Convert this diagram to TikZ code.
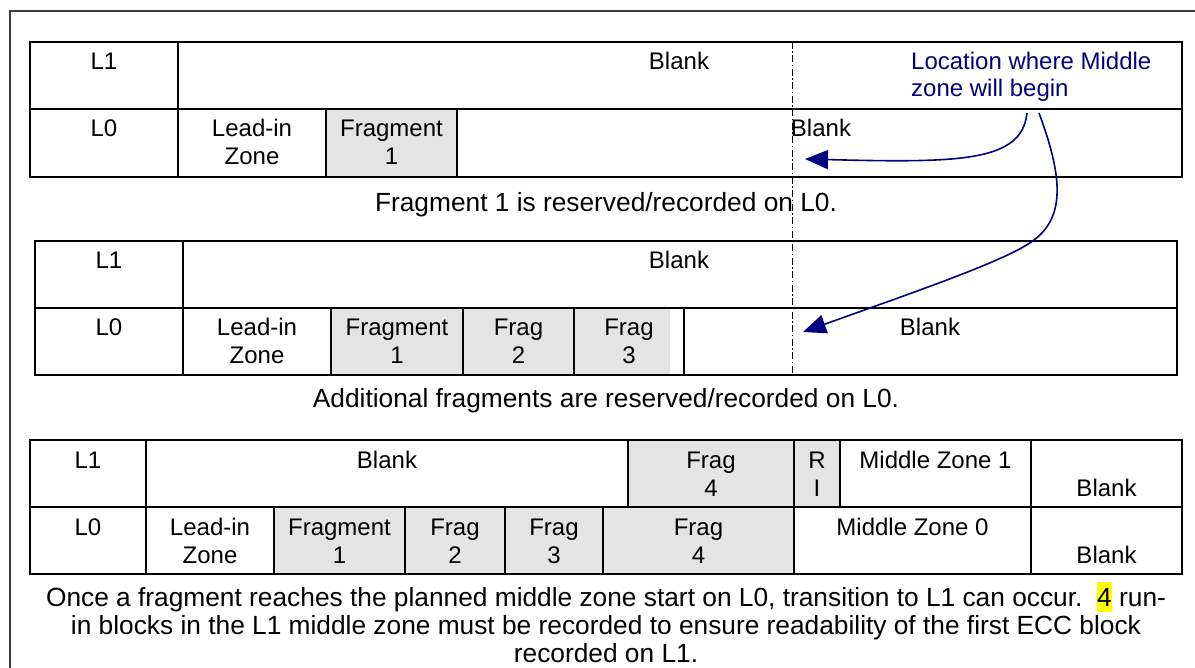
\documentclass[tikz,border=0pt]{standalone}
\usepackage{fontspec}
\setmainfont{Liberation Sans}
\usetikzlibrary{arrows.meta}
\definecolor{fraggray}{HTML}{E4E4E4}
\definecolor{navyblue}{HTML}{000080}
\definecolor{framegray}{HTML}{3C3C3C}
\definecolor{hiyellow}{HTML}{FFFF00}
\newcommand{\hlmark}[1]{{\setlength{\fboxsep}{0pt}\colorbox{hiyellow}{\rule[-5.5pt]{0pt}{29.5pt}#1}}}
\frenchspacing
\tikzset{
  gridline/.style={line width=1.8pt, draw=black},
  tt/.style={font=\fontsize{24}{28}\selectfont, anchor=base, inner sep=0pt},
  captext/.style={font=\fontsize{26.3}{30}\selectfont, anchor=base, inner sep=0pt},
  conn/.style={draw=navyblue, line width=1.6pt, -{Triangle[length=23pt,width=19pt]}},
  dashline/.style={line width=1pt, dash pattern=on 7pt off 2.5pt on 1.5pt off 2.5pt},
  loctext/.style={font=\fontsize{24}{28}\selectfont, anchor=base west, inner sep=0pt, text=navyblue}
}
\begin{document}
\begin{tikzpicture}[x=1pt,y=-1pt]
\useasboundingbox[fill=white] (0,0) rectangle (1195,668);
% outer frame (continues beyond the picture)
\draw[framegray, line width=1.5pt] (10,668) -- (10,11) -- (1195,11);

% ---------- table 1 ----------
\fill[fraggray] (326,109) rectangle (457,177);
\draw[gridline] (30,42) rectangle (1182,177);
\draw[gridline] (30,109) -- (1182,109);
\draw[gridline] (178,42) -- (178,177);
\draw[gridline] (326,109) -- (326,177) (457,109) -- (457,177);

% ---------- table 2 ----------
\fill[fraggray] (331,308) rectangle (670,375);
\draw[gridline] (35,241) rectangle (1177,375);
\draw[gridline] (35,308) -- (1177,308);
\draw[gridline] (183,241) -- (183,375);
\foreach \x in {331,463,574,684} \draw[gridline] (\x,308) -- (\x,375);

% ---------- table 3 ----------
\fill[fraggray] (628,440) rectangle (840,507);
\fill[fraggray] (274,507) rectangle (794,574);
\draw[gridline] (30,440) rectangle (1182,574);
\draw[gridline] (30,507) -- (1182,507);
\foreach \x in {146,794,1031} \draw[gridline] (\x,440) -- (\x,574);
\foreach \x in {628,840} \draw[gridline] (\x,440) -- (\x,507);
\foreach \x in {274,405,505,603} \draw[gridline] (\x,507) -- (\x,574);

% dash-dot marker of the middle zone start
\draw[dashline] (792,42) -- (792,375);

% ---------- texts table 1 ----------
\node[tt] (t1l1) at (104,70) {L1};
\node[tt] (t1b1) at (679,70) {Blank};
\node[tt] (t1l0) at (104,137) {L0};
\node[tt] (t1lead) at (252,137) {Lead-in};
\node[tt] (t1zone) at (252,165) {Zone};
\node[tt] (t1frag) at (391.5,137) {Fragment};
\node[tt] (t1one) at (391.5,165) {1};
\node[tt] (t1b0) at (821,137) {Blank};
\node[loctext] (loc1) at (911,70) {Location where Middle};
\node[loctext] (loc2) at (911,97) {zone will begin};

% ---------- texts table 2 ----------
\node[tt] (t2l1) at (109,269) {L1};
\node[tt] (t2b1) at (679,269) {Blank};
\node[tt] (t2l0) at (109,336) {L0};
\node[tt] (t2lead) at (257,336) {Lead-in};
\node[tt] (t2zone) at (257,364) {Zone};
\node[tt] (t2frag) at (397,336) {Fragment};
\node[tt] (t2one) at (397,364) {1};
\node[tt] (t2f2) at (518.5,336) {Frag};
\node[tt] (t2two) at (518.5,364) {2};
\node[tt] (t2f3) at (629,336) {Frag};
\node[tt] (t2three) at (629,364) {3};
\node[tt] (t2b0) at (930,336) {Blank};

% ---------- texts table 3 ----------
\node[tt] (t3l1) at (88,468) {L1};
\node[tt] (t3b1) at (387,468) {Blank};
\node[tt] (t3f4a) at (711,468) {Frag};
\node[tt] (t3foura) at (711,496) {4};
\node[tt] (t3r) at (817,468) {R};
\node[tt] (t3i) at (817,496) {I};
\node[tt] (t3mz1) at (935.5,468) {Middle Zone 1};
\node[tt] (t3b1r) at (1106.5,496) {Blank};
\node[tt] (t3l0) at (88,535) {L0};
\node[tt] (t3lead) at (210,535) {Lead-in};
\node[tt] (t3zone) at (210,563) {Zone};
\node[tt] (t3frag) at (339.5,535) {Fragment};
\node[tt] (t3one) at (339.5,563) {1};
\node[tt] (t3f2) at (455,535) {Frag};
\node[tt] (t3two) at (455,563) {2};
\node[tt] (t3f3) at (554,535) {Frag};
\node[tt] (t3three) at (554,563) {3};
\node[tt] (t3f4b) at (698.5,535) {Frag};
\node[tt] (t3fourb) at (698.5,563) {4};
\node[tt] (t3mz0) at (912.5,535) {Middle Zone 0};
\node[tt] (t3b0r) at (1106.5,563) {Blank};

% ---------- captions ----------
\node[captext] (cap1) at (606,212) {Fragment 1 is reserved/recorded on L0.};
\node[captext] (cap2) at (606,407) {Additional fragments are reserved/recorded on L0.};
\node[captext] (cap3a) at (606,606) {Once a fragment reaches the planned middle zone start on L0, transition to L1 can occur.\ \ \hlmark{4} run-};
\node[captext] (cap3b) at (606,634) {in blocks in the L1 middle zone must be recorded to ensure readability of the first ECC block};
\node[captext] (cap3c) at (606,662) {recorded on L1.};

% ---------- connectors ----------
\coordinate (a1s) at (1027,113);
\coordinate (a1e) at (805,159);
\coordinate (a2s) at (1039,113);
\coordinate (a2m) at (1034,240);
\coordinate (a2e) at (803,332);
\draw[conn] (a1s) .. controls (1022,162) and (960,163) .. (a1e);
\draw[conn] (a2s) .. controls (1062,175) and (1066,216) .. (a2m)
                  .. controls (1008,260) and (920,290) .. (a2e);
\end{tikzpicture}
\end{document}
